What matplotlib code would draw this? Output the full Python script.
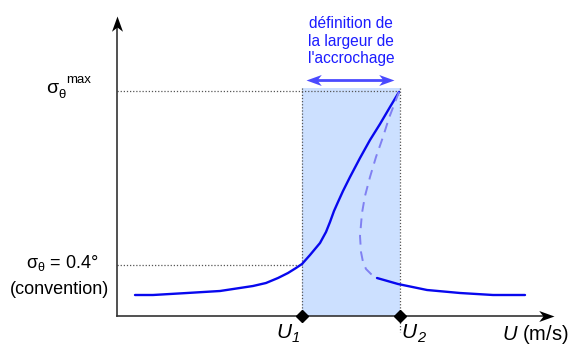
import matplotlib
matplotlib.use("Agg")
import matplotlib.pyplot as plt
from matplotlib.patches import Rectangle
from matplotlib.path import Path
from matplotlib.transforms import Affine2D

plt.rcParams['font.family'] = ['Liberation Sans', 'DejaVu Sans']
plt.rcParams['mathtext.fontset'] = 'custom'
plt.rcParams['mathtext.rm'] = 'Liberation Sans'
plt.rcParams['mathtext.it'] = 'Liberation Sans:italic'
plt.rcParams['mathtext.bf'] = 'Liberation Sans:bold'

# Schematic coordinates (pixel-like units, y grows downward)
U1, U2 = 302, 400
sig_max, sig_conv = 91, 265
axis_x0, axis_y0 = 117, 316

upper_u = [135, 153, 187, 220, 253, 266, 278, 288, 296, 302, 310, 320, 326, 330, 334, 338, 343,
           350, 360, 370, 380, 390, 399]
upper_s = [295, 295, 293, 291, 286, 283, 278, 273, 268, 264, 255, 243, 232, 222, 211, 202, 191,
           177, 158, 140, 124, 107, 92]

unstable_u = [399, 394, 389, 383, 376, 370, 365, 362, 360, 361, 363, 366, 371, 377]
unstable_s = [92, 105, 118, 137, 157, 177, 196, 213, 236, 252, 262, 269, 274, 278]

lower_u = [377, 398, 427, 460, 493, 525]
lower_s = [278, 284, 290, 293, 295, 295]

fig = plt.figure(figsize=(5.69, 3.47), dpi=100)
ax = fig.add_axes([0, 0, 1, 1])
ax.set_xlim(0, 569)
ax.set_ylim(347, 0)
ax.axis('off')

# stealth arrowhead marker (tip at origin, pointing +x)
head = Path([(0, 0), (-1, 0.36), (-0.72, 0), (-1, -0.36), (0, 0)],
            [Path.MOVETO, Path.LINETO, Path.LINETO, Path.LINETO, Path.CLOSEPOLY])


def head_marker(angle):
    return head.transformed(Affine2D().rotate_deg(angle))


# shaded band
ax.add_patch(Rectangle((U1, 88), U2 - U1, axis_y0 - 88, facecolor='#cce0ff', edgecolor='none', zorder=1))

# dotted guides
dot = dict(color='#555555', lw=0.9, ls=(0, (1, 1.5)), zorder=2)
ax.plot([axis_x0, U2], [sig_max, sig_max], **dot)
ax.plot([axis_x0, U1], [sig_conv, sig_conv], **dot)
ax.plot([U1, U1], [88, axis_y0], **dot)
ax.plot([U2, U2], [88, 332], **dot)

# axes with arrows
ax.plot([axis_x0, 548], [axis_y0, axis_y0], color='#333333', lw=1.2, zorder=3)
ax.plot([axis_x0, axis_x0], [axis_y0, 22], color='#333333', lw=1.2, zorder=3)
ax.plot([554], [axis_y0], marker=head_marker(0), ms=22, color='black', mew=0, ls='none', zorder=3)
ax.plot([axis_x0], [16], marker=head_marker(90), ms=22, color='black', mew=0, ls='none', zorder=3)

# curves
ax.plot(upper_u, upper_s, color='#0808ee', lw=1.7, solid_capstyle='round', solid_joinstyle='round', zorder=4)
ax.plot(unstable_u, unstable_s, color='#8080f2', lw=1.4, ls=(0, (5, 3.5)), zorder=4)
ax.plot(lower_u, lower_s, color='#0808ee', lw=1.7, solid_capstyle='round', solid_joinstyle='round', zorder=4)

# diamonds
ax.plot([U1, U2], [axis_y0, axis_y0], ls='none', marker='D', ms=6.5, color='black', zorder=5)

# double arrow
arrow_blue = '#4a4aff'
ax.plot([312, 388], [80, 80], color=arrow_blue, lw=2, zorder=5)
ax.plot([394], [80], marker=head_marker(0), ms=22, color=arrow_blue, mew=0, ls='none', zorder=5)
ax.plot([306], [80], marker=head_marker(180), ms=22, color=arrow_blue, mew=0, ls='none', zorder=5)

blue = '#1c1cff'
ax.text(351, 41, "définition de\nla largeur de\nl'accrochage", color=blue, fontsize=11.2,
        ha='center', va='center', linespacing=1.2)

ax.text(52, 88, 'σ', fontsize=14, ha='center', va='center')
ax.text(62, 95, 'θ', fontsize=9.5, ha='center', va='center')
ax.text(66, 80, 'max', fontsize=9.5, ha='left', va='center')
ax.text(62, 263, r'$\mathregular{σ_θ}$ = 0.4°', fontsize=13, ha='center', va='center')
ax.text(60, 289, '(convention)', fontsize=13, ha='center', va='center')

# U1, U2 labels (italic U with italic subscript digit)
for xu, digit in [(284, '1'), (409, '2')]:
    ax.text(xu, 333, 'U', fontsize=15, style='italic', ha='center', va='center')
    ax.text(xu + 8, 338, digit, fontsize=10.5, style='italic', ha='left', va='center')
ax.text(535, 334, r'$U$ (m/s)', fontsize=14.5, ha='center', va='center')

fig.savefig('out.png', dpi=100)
